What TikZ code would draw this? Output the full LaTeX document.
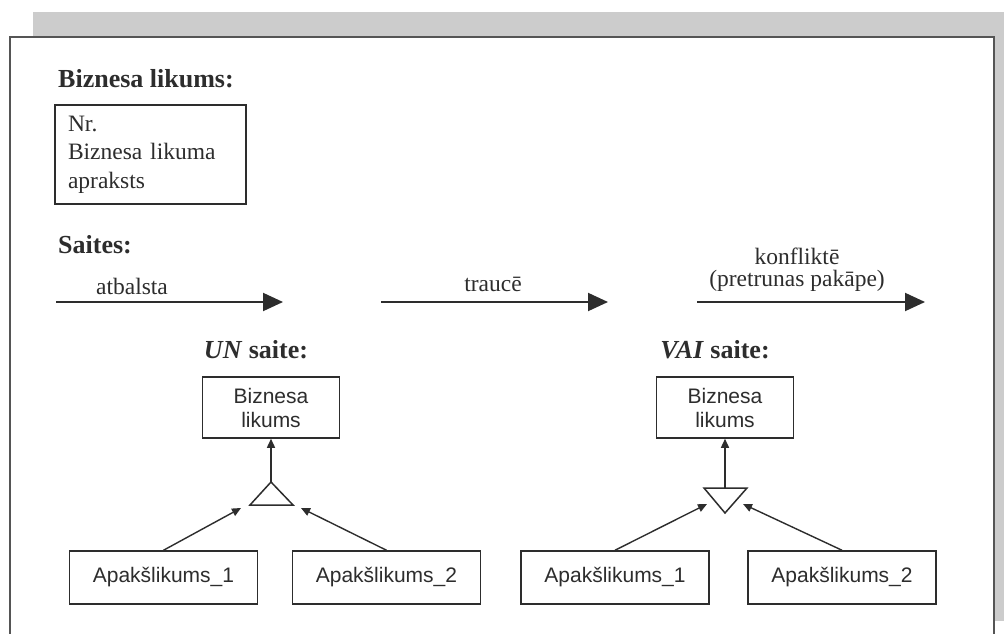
\documentclass[tikz,border=0pt]{standalone}
\usepackage{fontspec}
\setmainfont{Liberation Serif}
\setsansfont{Liberation Sans}
\usetikzlibrary{arrows.meta}

\definecolor{shadowgray}{RGB}{204,204,204}
\definecolor{framegray}{RGB}{85,85,85}
\definecolor{inkgray}{RGB}{45,45,45}

\begin{document}
\begin{tikzpicture}[x=1pt, y=-1pt,
    hdr/.style={font=\fontsize{26}{30}\selectfont\bfseries, text=inkgray, inner sep=0pt, anchor=base west},
    lbl/.style={font=\fontsize{23.5}{22}\selectfont, text=inkgray, inner sep=0pt, anchor=base, align=center},
    rulebox/.style={draw=inkgray, line width=1.6pt, font=\fontsize{23.5}{28.5}\selectfont, text=inkgray,
        align=left, text width=165pt, inner xsep=13pt, inner ysep=0pt, minimum height=99pt},
    sbox/.style={draw=inkgray, line width=1.5pt, font=\fontsize{21}{24}\selectfont\sffamily, text=inkgray,
        align=center, inner sep=0pt, minimum height=53pt, minimum width=188pt},
    topbox/.style={sbox, minimum height=61pt, minimum width=137pt},
    linkarrow/.style={draw=inkgray, line width=2pt, -{Triangle[length=20pt, width=18pt]}},
    subarrow/.style={draw=inkgray, line width=1.4pt, -{Triangle[length=9pt, width=8pt]}},
    tri/.style={draw=inkgray, line width=1.5pt}]
    \useasboundingbox (0,0) rectangle (1004,634);

    % Shadow and frame
    \fill[shadowgray] (33,12) rectangle (1004,621);
    \fill[white] (10,37) rectangle (994,634);
    \draw[framegray, line width=2.5pt] (10,634) -- (10,37) -- (994,37) -- (994,634);

    % Business rule legend
    \node[hdr] (rulehdr) at (58,88) {Biznesa likums:};
    \node[rulebox] (rule) at (150.5,154.5) {Nr.\\Biznesa likuma\\apraksts};

    % Link types
    \node[hdr] (linkhdr) at (58,253) {Saites:};

    \coordinate (sup1) at (56,302);
    \coordinate (sup2) at (283,302);
    \draw[linkarrow] (sup1) -- (sup2);
    \node[lbl] (suplbl) at (132,294) {atbalsta};

    \coordinate (dis1) at (381,302);
    \coordinate (dis2) at (608,302);
    \draw[linkarrow] (dis1) -- (dis2);
    \node[lbl] (dislbl) at (493,291) {traucē};

    \coordinate (con1) at (697,302);
    \coordinate (con2) at (925,302);
    \draw[linkarrow] (con1) -- (con2);
    \node[lbl, anchor=south] (conlbl) at (797,292) {konfliktē\\(pretrunas pakāpe)};

    % UN link
    \node[hdr, anchor=base] (unhdr) at (256,358) {\textit{UN} saite:};
    \node[topbox] (unrule) at (271,407.5) {Biznesa\\likums};
    \node[sbox] (unsub1) at (163.5,577.5) {Apakšlikums\_1};
    \node[sbox] (unsub2) at (386.5,577.5) {Apakšlikums\_2};

    \coordinate (unTop) at (271,482);
    \coordinate (unLeft) at (250,505);
    \coordinate (unRight) at (293,505);
    \draw[tri] (unTop) -- (unLeft) -- (unRight) -- cycle;
    \coordinate (unIn1) at (241,508);
    \coordinate (unIn2) at (301,508);

    \draw[subarrow] (unTop) -- (unrule.south);
    \draw[subarrow] (unsub1.north) -- (unIn1);
    \draw[subarrow] (unsub2.north) -- (unIn2);

    % VAI link
    \node[hdr, anchor=base] (vaihdr) at (715,358) {\textit{VAI} saite:};
    \node[topbox] (vairule) at (725,407.5) {Biznesa\\likums};
    \node[sbox] (vaisub1) at (615,577.5) {Apakšlikums\_1};
    \node[sbox] (vaisub2) at (842,577.5) {Apakšlikums\_2};

    \coordinate (vaiLeft) at (704,488);
    \coordinate (vaiRight) at (747,488);
    \coordinate (vaiTip) at (725,513);
    \coordinate (vaiTop) at (725,488);
    \draw[tri] (vaiLeft) -- (vaiRight) -- (vaiTip) -- cycle;
    \coordinate (vaiIn1) at (707,504);
    \coordinate (vaiIn2) at (743,504);

    \draw[subarrow] (vaiTop) -- (vairule.south);
    \draw[subarrow] (vaisub1.north) -- (vaiIn1);
    \draw[subarrow] (vaisub2.north) -- (vaiIn2);
\end{tikzpicture}
\end{document}
